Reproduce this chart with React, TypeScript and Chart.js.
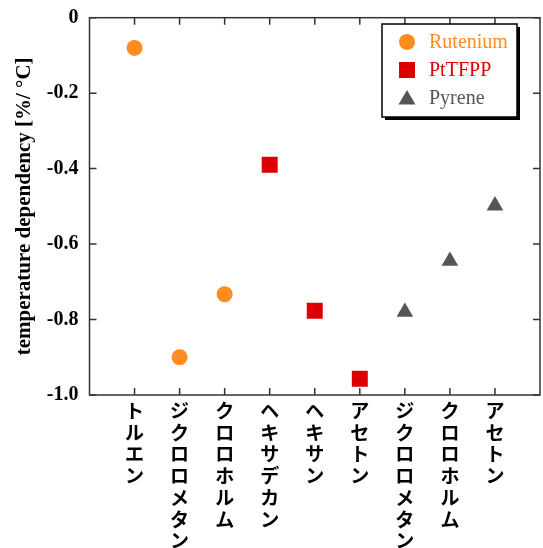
import React, { useEffect, useRef } from 'react';
import { Chart, registerables } from 'chart.js';

Chart.register(...registerables);

// ---- data ----
const categories = ['トルエン', 'ジクロロメタン', 'クロロホルム', 'ヘキサデカン', 'ヘキサン', 'アセトン', 'ジクロロメタン', 'クロロホルム', 'アセトン'];
const seriesNames = ['Rutenium', 'PtTFPP', 'Pyrene'];
const rutheniumX = [1, 2, 3];
const rutheniumY = [-0.08, -0.9, -0.733];
const pttfppX = [4, 5, 6];
const pttfppY = [-0.39, -0.777, -0.957];
const pyreneX = [7, 8, 9];
const pyreneY = [-0.78, -0.645, -0.498];
const yTickValues = [0, -0.2, -0.4, -0.6, -0.8, -1.0];
const yTitle = 'temperature dependency [%/ °C]';

const colors = ['#FF8C1E', '#DD0000', '#555555'];
const styles = ['circle', 'rect', 'triangle'];
const radii = [8, 11.3, 9.6];

const SERIF = '"Liberation Serif", "Times New Roman", Times, serif';
const CJK = '"Noto Sans CJK JP", "Noto Sans CJK SC", sans-serif';

const AREA = { left: 89.5, top: 17.7, right: 540, bottom: 395 };

const toPoints = (xs: number[], ys: number[]) => xs.map((x, i) => ({ x, y: ys[i] }));

const zeroPad = (s: any) => {
  s.paddingTop = 0;
  s.paddingBottom = 0;
  s.paddingLeft = 0;
  s.paddingRight = 0;
};

const framePlugin = {
  id: 'frame',
  beforeDatasetsDraw(chart: any) {
    const { ctx, chartArea: a, scales } = chart;
    ctx.save();
    ctx.strokeStyle = '#333';
    ctx.lineWidth = 1.5;
    ctx.strokeRect(a.left, a.top, a.right - a.left, a.bottom - a.top);
    const tl = 7;
    ctx.beginPath();
    for (let i = 1; i <= categories.length; i++) {
      const px = scales.x.getPixelForValue(i);
      ctx.moveTo(px, a.bottom);
      ctx.lineTo(px, a.bottom - tl);
      ctx.moveTo(px, a.top);
      ctx.lineTo(px, a.top + tl);
    }
    for (const v of yTickValues) {
      const py = scales.y.getPixelForValue(v);
      ctx.moveTo(a.left, py);
      ctx.lineTo(a.left + tl, py);
      ctx.moveTo(a.right, py);
      ctx.lineTo(a.right - tl, py);
    }
    ctx.stroke();
    ctx.restore();
  },
};

function drawMarker(ctx: CanvasRenderingContext2D, style: string, x: number, y: number, color: string) {
  ctx.fillStyle = color;
  ctx.beginPath();
  if (style === 'circle') {
    ctx.arc(x, y, 8, 0, Math.PI * 2);
  } else if (style === 'rect') {
    ctx.rect(x - 8, y - 8, 16, 16);
  } else {
    ctx.moveTo(x, y - 8);
    ctx.lineTo(x + 8.5, y + 6.5);
    ctx.lineTo(x - 8.5, y + 6.5);
    ctx.closePath();
  }
  ctx.fill();
}

const legendPlugin = {
  id: 'boxLegend',
  afterDraw(chart: any) {
    const { ctx } = chart;
    const x = 382, y = 24, w = 135, h = 93;
    ctx.save();
    ctx.fillStyle = '#000';
    ctx.fillRect(x + 3, y + 3, w, h);
    ctx.fillStyle = '#fff';
    ctx.fillRect(x, y, w, h);
    ctx.strokeStyle = '#000';
    ctx.lineWidth = 1.5;
    ctx.strokeRect(x, y, w, h);
    ctx.font = `20px ${SERIF}`;
    ctx.textBaseline = 'middle';
    ctx.textAlign = 'left';
    seriesNames.forEach((name, i) => {
      const cy = 42 + i * 28;
      drawMarker(ctx, styles[i], 407, cy, colors[i]);
      ctx.fillStyle = colors[i];
      ctx.fillText(name, 429, cy + 1);
    });
    ctx.restore();
  },
};

export default function App() {
  const ref = useRef<HTMLCanvasElement>(null);
  useEffect(() => {
    if (!ref.current) return;
    const xs = [rutheniumX, pttfppX, pyreneX];
    const ys = [rutheniumY, pttfppY, pyreneY];
    const padding = { top: AREA.top, right: 543 - AREA.right, left: 0, bottom: 0 };
    const chart = new Chart(ref.current, {
      type: 'scatter',
      data: {
        datasets: seriesNames.map((name, i) => ({
          label: name,
          data: toPoints(xs[i], ys[i]),
          pointStyle: styles[i] as any,
          pointRadius: radii[i],
          pointHoverRadius: radii[i],
          backgroundColor: colors[i],
          borderColor: colors[i],
          borderWidth: 0,
          showLine: false,
        })),
      },
      options: {
        animation: false,
        responsive: false,
        maintainAspectRatio: false,
        layout: { padding, autoPadding: false },
        plugins: { legend: { display: false }, tooltip: { enabled: false } },
        scales: {
          x: {
            type: 'linear',
            min: 0,
            max: 10,
            grid: { display: false, drawTicks: false },
            border: { display: false },
            afterBuildTicks: (s: any) => {
              s.ticks = Array.from({ length: 11 }, (_, v) => ({ value: v }));
            },
            afterFit: (s: any) => {
              s.height = 548 - AREA.bottom;
              zeroPad(s);
            },
            ticks: {
              autoSkip: false,
              maxRotation: 0,
              minRotation: 0,
              padding: 5,
              color: '#000',
              font: { family: CJK, size: 19, weight: 'bold', lineHeight: '21.7px' },
              callback: (v: any) => {
                const n = Math.round(Number(v));
                return n >= 1 && n <= categories.length ? categories[n - 1].split('') : '';
              },
            },
          },
          y: {
            type: 'linear',
            min: -1,
            max: 0,
            grid: { display: false, drawTicks: false },
            border: { display: false },
            afterBuildTicks: (s: any) => {
              s.ticks = yTickValues.map((v) => ({ value: v }));
            },
            afterFit: (s: any) => {
              s.width = AREA.left;
              zeroPad(s);
            },
            ticks: {
              padding: 11,
              color: '#000',
              font: { family: SERIF, size: 20, weight: 'bold' },
              callback: (v: any) => (Math.abs(Number(v)) < 1e-9 ? '0' : Number(v).toFixed(1)),
            },
            title: {
              display: true,
              text: yTitle,
              color: '#000',
              font: { family: SERIF, size: 21, weight: 'bold' },
              padding: { top: 12, bottom: 0 },
            },
          },
        },
      },
      plugins: [framePlugin, legendPlugin],
    });
    return () => chart.destroy();
  }, []);
  return (
    <div style={{ position: 'fixed', left: 0, top: 0, width: 543, height: 548, background: '#fff' }}>
      <canvas ref={ref} width={543} height={548} style={{ display: 'block' }} />
    </div>
  );
}
